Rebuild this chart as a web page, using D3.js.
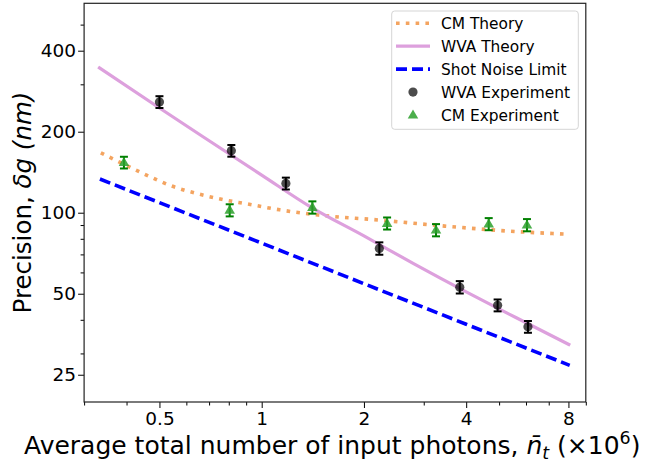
<!DOCTYPE html>
<html>
<head>
<meta charset="utf-8">
<script src="https://cdn.jsdelivr.net/npm/d3@7"></script>
<style>
  body { margin: 0; background: #fff; }
  svg { display: block; font-family: "DejaVu Sans", sans-serif; }
</style>
</head>
<body>
<script>
// experiment points (x in units of 1e6 photons, y in nm)
var wvaX = [0.5, 0.814, 1.178, 2.22, 3.83, 4.95, 6.08];
var wvaY = [258, 170, 128.5, 73.7, 52.9, 45.3, 37.7];
var wvaErr = [13, 8.5, 6.5, 3.9, 2.8, 2.3, 1.9];

var cmX = [0.393, 0.805, 1.41, 2.34, 3.26, 4.66, 6.04];
var cmY = [153.7, 102.2, 104.7, 91.3, 86.2, 90.8, 90.0];
var cmErr = [7.7, 5.3, 5.5, 4.7, 4.5, 4.7, 4.7];

// theory curves
var wvaThX = [0.33, 0.5, 0.67, 1.0, 1.4, 2.0, 2.8, 4.0, 5.6, 8.1];
var wvaThY = [348, 245, 192, 138, 104.7, 82, 64.7, 50.8, 40.8, 32.2];

var cmThX = [0.336, 0.39, 0.45, 0.54, 0.65, 0.78, 0.9, 1.13, 1.47, 2.2, 3.35, 5.3, 7.9];
var cmThY = [167, 152, 139.4, 126, 117.5, 111.5, 108, 102.5, 98, 94, 89.5, 85.5, 83.2];

var snlX = [0.334, 0.5, 1, 2, 4, 8.07];
var snlY = [133.4, 109, 77.1, 54.5, 38.5, 27.1];

var xMajor = [0.5, 1, 2, 4, 8];
var xMinor = [0.3, 0.4, 0.6, 0.7, 0.8, 0.9, 3, 5, 6, 7, 9];
var yMajor = [25, 50, 100, 200, 400];
var yMinor = [30, 40, 60, 70, 80, 90, 300, 500];

var legendItems = ["CM Theory", "WVA Theory", "Shot Noise Limit", "WVA Experiment", "CM Experiment"];

var width = 645, height = 466;
var mLeft = 84.1, mRight = 585.8, mTop = 3.3, mBottom = 402;

var svg = d3.select("body").append("svg")
  .attr("width", width)
  .attr("height", height);

var x = d3.scaleLog().domain([0.3, 9]).range([mLeft, mRight]);
var y = d3.scaleLog().domain([19.8, 600]).range([mBottom, mTop]);

function zip(xs, ys) {
  return xs.map(function(v, i) { return [v, ys[i]]; });
}

var line = d3.line()
  .x(function(d) { return x(d[0]); })
  .y(function(d) { return y(d[1]); });

var plot = svg.append("g");

// CM theory (dotted)
plot.append("path")
  .datum(zip(cmThX, cmThY))
  .attr("fill", "none")
  .attr("stroke", "#f4a460")
  .attr("stroke-width", 3.6)
  .attr("stroke-dasharray", "3.6,6.2")
  .attr("d", line.curve(d3.curveMonotoneX));

// WVA theory
plot.append("path")
  .datum(zip(wvaThX, wvaThY))
  .attr("fill", "none")
  .attr("stroke", "#dda0dd")
  .attr("stroke-width", 3.2)
  .attr("d", line.curve(d3.curveMonotoneX));

// Shot noise limit
plot.append("path")
  .datum(zip(snlX, snlY))
  .attr("fill", "none")
  .attr("stroke", "#0000ff")
  .attr("stroke-width", 3.6)
  .attr("stroke-dasharray", "11,5")
  .attr("d", line.curve(d3.curveLinear));

function errorBars(xs, ys, es, color, cls) {
  var data = xs.map(function(v, i) { return { x: v, y: ys[i], e: es[i] }; });
  var g = plot.append("g").attr("class", cls);
  g.selectAll("line.bar").data(data).enter().append("line")
    .attr("class", "bar")
    .attr("x1", function(d) { return x(d.x); })
    .attr("x2", function(d) { return x(d.x); })
    .attr("y1", function(d) { return y(d.y - d.e); })
    .attr("y2", function(d) { return y(d.y + d.e); })
    .attr("stroke", color).attr("stroke-width", 2);
  [-1, 1].forEach(function(s) {
    g.selectAll("line.cap" + (s + 1)).data(data).enter().append("line")
      .attr("class", "cap" + (s + 1))
      .attr("x1", function(d) { return x(d.x) - 4; })
      .attr("x2", function(d) { return x(d.x) + 4; })
      .attr("y1", function(d) { return y(d.y + s * d.e); })
      .attr("y2", function(d) { return y(d.y + s * d.e); })
      .attr("stroke", color).attr("stroke-width", 2);
  });
  return { g: g, data: data };
}

var tri = d3.symbol().type(d3.symbolTriangle).size(48);

// CM experiment
var cm = errorBars(cmX, cmY, cmErr, "#008000", "cm-exp");
cm.g.selectAll("path.mk").data(cm.data).enter().append("path")
  .attr("class", "mk")
  .attr("transform", function(d) { return "translate(" + x(d.x) + "," + (y(d.y) + 0.5) + ")"; })
  .attr("d", tri)
  .attr("fill", "#2ca02c")
  .attr("fill-opacity", 0.85);

// WVA experiment
var wva = errorBars(wvaX, wvaY, wvaErr, "#000000", "wva-exp");
wva.g.selectAll("circle").data(wva.data).enter().append("circle")
  .attr("cx", function(d) { return x(d.x); })
  .attr("cy", function(d) { return y(d.y); })
  .attr("r", 4.6)
  .attr("fill", "#000")
  .attr("fill-opacity", 0.7);

// axes
function fmt(d) { return String(d); }

svg.append("g")
  .attr("transform", "translate(0," + mBottom + ")")
  .call(d3.axisBottom(x).tickValues(xMinor).tickSize(3.5).tickFormat(""))
  .call(function(g) { g.select(".domain").remove(); });
var xAxis = svg.append("g")
  .attr("transform", "translate(0," + mBottom + ")")
  .call(d3.axisBottom(x).tickValues(xMajor).tickSize(6).tickPadding(4).tickFormat(fmt));
xAxis.select(".domain").remove();
xAxis.selectAll("text").attr("font-size", 18.5).attr("font-family", "DejaVu Sans").attr("fill", "#000");

svg.append("g")
  .attr("transform", "translate(" + mLeft + ",0)")
  .call(d3.axisLeft(y).tickValues(yMinor).tickSize(3.5).tickFormat(""))
  .call(function(g) { g.select(".domain").remove(); });
var yAxis = svg.append("g")
  .attr("transform", "translate(" + mLeft + ",0)")
  .call(d3.axisLeft(y).tickValues(yMajor).tickSize(6).tickPadding(2).tickFormat(fmt));
yAxis.select(".domain").remove();
yAxis.selectAll("text").attr("font-size", 18.5).attr("font-family", "DejaVu Sans").attr("fill", "#000");

svg.selectAll(".tick line").attr("stroke", "#000").attr("stroke-width", 1);

// frame
svg.append("rect")
  .attr("x", mLeft).attr("y", mTop)
  .attr("width", mRight - mLeft).attr("height", mBottom - mTop)
  .attr("fill", "none")
  .attr("stroke", "#222")
  .attr("stroke-width", 1.2);

// axis labels
var xl = svg.append("text")
  .attr("x", 24).attr("y", 454)
  .attr("font-size", 25)
  .attr("fill", "#000");
xl.append("tspan").text("Average total number of input photons, ");
xl.append("tspan").attr("font-style", "italic").text("n\u0304");
xl.append("tspan").attr("font-style", "italic").attr("font-size", 17.5).attr("dy", 5).text("t");
xl.append("tspan").attr("dy", -5).text(" (\u00d710");
xl.append("tspan").attr("font-size", 17.5).attr("dy", -10).text("6");
xl.append("tspan").attr("dy", 10).text(")");

var yl = svg.append("text")
  .attr("transform", "translate(31,202.5) rotate(-90)")
  .attr("text-anchor", "middle")
  .attr("font-size", 24.5)
  .attr("fill", "#000");
yl.append("tspan").text("Precision, ");
yl.append("tspan").attr("font-style", "italic").text("\u03b4g (nm)");

// legend
var lg = svg.append("g").attr("class", "legend");
lg.append("rect")
  .attr("x", 391.7).attr("y", 11)
  .attr("width", 186.6).attr("height", 118.3)
  .attr("rx", 3)
  .attr("fill", "#fff").attr("fill-opacity", 0.8)
  .attr("stroke", "#d5d5d5");

var rowY = function(i) { return 23.2 + i * 22.95; };

lg.append("line").attr("x1", 396).attr("x2", 430).attr("y1", rowY(0)).attr("y2", rowY(0))
  .attr("stroke", "#f4a460").attr("stroke-width", 3.6).attr("stroke-dasharray", "3.6,6.2");
lg.append("line").attr("x1", 396).attr("x2", 430).attr("y1", rowY(1)).attr("y2", rowY(1))
  .attr("stroke", "#dda0dd").attr("stroke-width", 3.2);
lg.append("line").attr("x1", 396).attr("x2", 430).attr("y1", rowY(2)).attr("y2", rowY(2))
  .attr("stroke", "#0000ff").attr("stroke-width", 3.6).attr("stroke-dasharray", "11,5");
lg.append("circle").attr("cx", 413).attr("cy", rowY(3)).attr("r", 4.6)
  .attr("fill", "#000").attr("fill-opacity", 0.7);
lg.append("path").attr("transform", "translate(413," + (rowY(4) + 0.5) + ")").attr("d", tri)
  .attr("fill", "#2ca02c").attr("fill-opacity", 0.85);

lg.selectAll("text.item").data(legendItems).enter().append("text")
  .attr("class", "item")
  .attr("x", 441)
  .attr("y", function(d, i) { return rowY(i); })
  .attr("dy", "0.36em")
  .attr("font-size", 15.4)
  .attr("fill", "#000")
  .text(function(d) { return d; });
</script>
</body>
</html>
